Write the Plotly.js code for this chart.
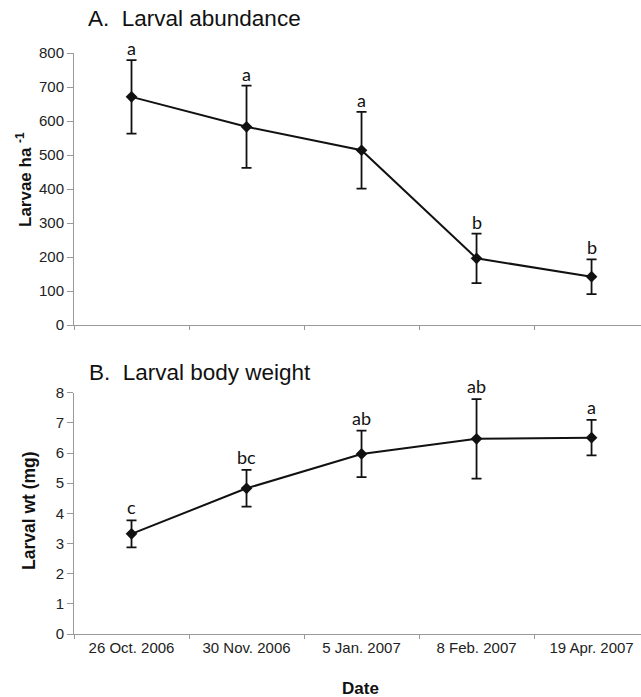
<!DOCTYPE html>
<html>
<head>
<meta charset="utf-8">
<script src="https://cdn.plot.ly/plotly-3.0.1.min.js"></script>
<style>html,body{margin:0;padding:0;overflow:hidden;background:#fff}</style>
</head>
<body>
<div id="chart" style="width:641px;height:697px"></div>
<script>
var dates = ["26 Oct. 2006", "30 Nov. 2006", "5 Jan. 2007", "8 Feb. 2007", "19 Apr. 2007"];
var abundance = [671, 583, 514, 196, 142];
var abundanceErr = [108, 121, 113, 73, 51];
var abundanceLetters = ["a", "a", "a", "b", "b"];
var weight = [3.32, 4.83, 5.97, 6.47, 6.51];
var weightErr = [0.45, 0.61, 0.77, 1.32, 0.59];
var weightLetters = ["c", "bc", "ab", "ab", "a"];

var W = 641, H = 697;
function px(x) { return x / W; }
function py(y) { return 1 - y / H; }

var lineStyle = {color: "#111", width: 2};
var markerStyle = {symbol: "diamond", size: 9, color: "#111"};

var traces = [
  {
    x: dates, y: abundance, type: "scatter", mode: "lines+markers",
    line: lineStyle, marker: markerStyle, xaxis: "x", yaxis: "y",
    error_y: {type: "data", array: abundanceErr, visible: true, color: "#111", thickness: 1.8, width: 5}
  },
  {
    x: dates, y: weight, type: "scatter", mode: "lines+markers",
    line: lineStyle, marker: markerStyle, xaxis: "x2", yaxis: "y2",
    error_y: {type: "data", array: weightErr, visible: true, color: "#111", thickness: 1.8, width: 5}
  }
];

var tickFont = {family: "Liberation Sans, Arial, sans-serif", size: 15, color: "#222"};
var axisCommon = {
  showline: true, linecolor: "#999", linewidth: 1, showgrid: false, zeroline: false,
  ticks: "outside", tickcolor: "#999", tickfont: tickFont
};

var annotations = [];
for (var i = 0; i < dates.length; i++) {
  annotations.push({
    x: dates[i], y: abundance[i] + abundanceErr[i], xref: "x", yref: "y",
    text: abundanceLetters[i], showarrow: false, yanchor: "middle", yshift: 12,
    font: {family: "Lato, sans-serif", size: 18, color: "#111"}
  });
  annotations.push({
    x: dates[i], y: weight[i] + weightErr[i], xref: "x2", yref: "y2",
    text: weightLetters[i], showarrow: false, yanchor: "middle", yshift: 13,
    font: {family: "Lato, sans-serif", size: 18, color: "#111"}
  });
}
annotations.push({
  x: px(86), y: py(18), xref: "paper", yref: "paper", xanchor: "left", yanchor: "middle",
  text: "A.&nbsp; Larval abundance", showarrow: false,
  font: {family: "Liberation Sans, Arial, sans-serif", size: 22.5, color: "#111"}
});
annotations.push({
  x: px(87), y: py(372), xref: "paper", yref: "paper", xanchor: "left", yanchor: "middle",
  text: "B.&nbsp; Larval body weight", showarrow: false,
  font: {family: "Liberation Sans, Arial, sans-serif", size: 22.5, color: "#111"}
});
annotations.push({
  x: px(24), y: py(180), xref: "paper", yref: "paper", xanchor: "center", yanchor: "middle",
  text: "<b>Larvae ha <sup>-1</sup></b>", showarrow: false, textangle: -90,
  font: {family: "Liberation Sans, Arial, sans-serif", size: 17, color: "#111"}
});
annotations.push({
  x: px(29), y: py(511), xref: "paper", yref: "paper", xanchor: "center", yanchor: "middle",
  text: "<b>Larval wt (mg)</b>", showarrow: false, textangle: -90,
  font: {family: "Liberation Sans, Arial, sans-serif", size: 17.5, color: "#111"}
});
annotations.push({
  x: px(360), y: py(688), xref: "paper", yref: "paper", xanchor: "center", yanchor: "middle",
  text: "<b>Date</b>", showarrow: false,
  font: {family: "Liberation Sans, Arial, sans-serif", size: 17, color: "#111"}
});

var layout = {
  width: W, height: H,
  margin: {l: 0, r: 0, t: 0, b: 0, pad: 0},
  paper_bgcolor: "#fff", plot_bgcolor: "#fff",
  showlegend: false,
  xaxis: Object.assign({}, axisCommon, {
    type: "category", domain: [px(74), 1], range: [-0.5, 4.43],
    tickson: "boundaries", ticklen: 4, showticklabels: false, anchor: "y"
  }),
  yaxis: Object.assign({}, axisCommon, {
    domain: [py(325), py(53)], range: [0, 800], dtick: 100, ticklen: 6, anchor: "x"
  }),
  xaxis2: Object.assign({}, axisCommon, {
    type: "category", domain: [px(74), 1], range: [-0.5, 4.43],
    tickson: "boundaries", ticklen: 4, anchor: "y2"
  }),
  yaxis2: Object.assign({}, axisCommon, {
    domain: [py(634), py(392.7)], range: [0, 8], dtick: 1, ticklen: 6, anchor: "x2"
  }),
  annotations: annotations
};

Plotly.newPlot("chart", traces, layout, {displayModeBar: false, staticPlot: true});
</script>
</body>
</html>
